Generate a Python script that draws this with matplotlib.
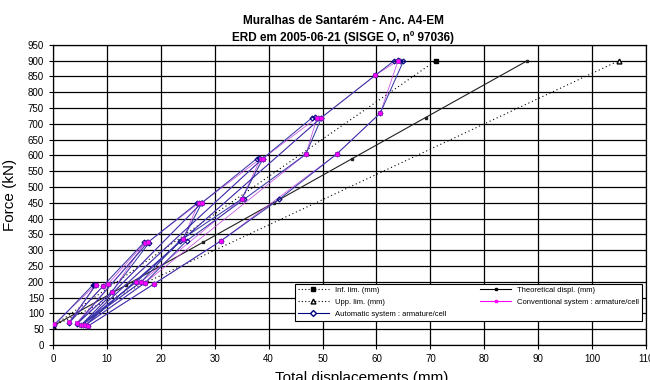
import matplotlib
matplotlib.use("Agg")
import matplotlib.pyplot as plt
from matplotlib.lines import Line2D

plt.rcParams['font.family'] = ['Liberation Sans', 'DejaVu Sans']

# --- data ---
theo_disp = [0.0, 13.6, 27.8, 40.9, 55.5, 69.1, 88.0]
theo_load = [60, 190, 325, 450, 590, 720, 900]
inf_disp = [0.0, 71.0]
inf_load = [60, 900]
upp_disp = [0.0, 105.0]
upp_load = [60, 900]

auto_disp = [0.2, 7.4, 7.6, 7.8, 7.9, 3.0,
             9.3, 16.9, 17.2, 17.5, 17.8, 10.9, 4.4,
             17.6, 26.8, 27.1, 27.4, 27.6, 24.1, 15.4, 5.2,
             27.6, 37.8, 38.2, 38.6, 38.9, 35.0, 23.5, 16.3, 5.5,
             38.9, 48.1, 48.6, 49.2, 49.8, 46.9, 35.5, 24.8, 17.0, 6.0,
             49.8, 59.8, 63.3, 63.9, 64.4, 65.0, 60.7, 52.6, 42.0, 31.1, 18.7, 6.5]
auto_load = [62, 190, 191, 190, 189, 70,
             187, 325, 324, 325, 323, 168, 66,
             325, 450, 451, 450, 449, 335, 199, 63,
             450, 590, 591, 590, 589, 462, 330, 199, 65,
             590, 720, 721, 720, 719, 604, 462, 330, 196, 63,
             720, 854, 900, 901, 900, 899, 734, 604, 462, 329, 193, 60]

conv_disp = [0.2, 7.9, 3.0,
             9.3, 10.2, 17.0, 10.9, 4.4,
             17.6, 27.0, 24.1, 15.4, 5.2,
             27.6, 38.5, 35.0, 16.3, 5.5,
             38.9, 49.0, 46.9, 17.0, 6.0,
             49.8, 59.8, 64.0, 60.7, 52.6, 31.1, 18.7, 6.5]
conv_load = [66, 190, 73,
             187, 193, 323, 168, 70,
             325, 449, 335, 199, 63,
             450, 590, 462, 199, 65,
             590, 720, 604, 196, 63,
             720, 854, 900, 734, 604, 329, 193, 60]

x_ticks = list(range(0, 111, 10))
y_ticks = list(range(0, 951, 50))

fig = plt.figure(figsize=(6.5, 3.8), dpi=100)
ax = fig.add_axes([0.0815, 0.092, 0.9125, 0.79])

ax.plot(inf_disp, inf_load, color='black', ls=(0, (1, 2.5)), lw=0.8,
        marker='s', ms=3, mfc='black', zorder=3)
ax.plot(upp_disp, upp_load, color='black', ls=(0, (1, 2.5)), lw=0.8,
        marker='^', ms=3.5, mfc='white', zorder=3)
ax.plot(theo_disp, theo_load, color='#202020', lw=0.8,
        marker='s', ms=1.5, zorder=3)
ax.plot(conv_disp, conv_load, color='#c040e0', lw=0.5, zorder=3)
ax.plot(auto_disp, auto_load, color='#3a3aa8', lw=0.75,
        marker='D', ms=2.5, mfc='none', mec='#000080', mew=0.8, zorder=4)
ax.plot(conv_disp, conv_load, ls='none', marker='s', ms=2.5,
        mfc='#ff00ff', mec='#9020c0', mew=0.5, zorder=5)

ax.set_xlim(0, 110)
ax.set_ylim(0, 950)
ax.set_xticks(x_ticks)
ax.set_yticks(y_ticks)
ax.tick_params(labelsize=7, length=3, width=0.8)
ax.grid(True, color='black', lw=0.9)
for s in ax.spines.values():
    s.set_linewidth(0.9)

ax.set_ylabel('Force (kN)', fontsize=11, labelpad=8)
ax.set_xlabel('Total displacements (mm)', fontsize=11, labelpad=0)
ax.xaxis.set_label_coords(0.52, -0.085)

fig.text(0.528, 0.945, 'Muralhas de Santarém - Anc. A4-EM', ha='center',
         va='center', fontsize=8.5, fontweight='bold')
fig.text(0.528, 0.9, 'ERD em 2005-06-21 (SISGE O, nº 97036)', ha='center',
         va='center', fontsize=8.5, fontweight='bold')

handles = [
    Line2D([], [], color='black', ls=(0, (1, 2)), lw=0.8, marker='s', ms=3),
    Line2D([], [], color='black', ls=(0, (1, 2)), lw=0.8, marker='^', ms=3.5, mfc='white'),
    Line2D([], [], color='#000080', lw=0.8, marker='D', ms=3, mfc='white'),
    Line2D([], [], color='black', lw=0.8, marker='s', ms=2),
    Line2D([], [], color='#ff00ff', lw=0.8, marker='s', ms=2),
]
labels = ['Inf. lim. (mm)', 'Upp. lim. (mm)', 'Automatic system : armature/cell',
          'Theoretical displ. (mm)', 'Conventional system : armature/cell']
leg = ax.legend(handles, labels, ncol=2, fontsize=5.5, loc='lower left',
                bbox_to_anchor=(0.408, 0.08, 0.585, 0.123), mode='expand',
                fancybox=False, framealpha=1, edgecolor='black',
                handlelength=4, borderaxespad=0, columnspacing=1.0,
                labelspacing=0.6)
leg.get_frame().set_linewidth(0.8)
leg.set_zorder(10)

fig.savefig('out.png', dpi=100)
